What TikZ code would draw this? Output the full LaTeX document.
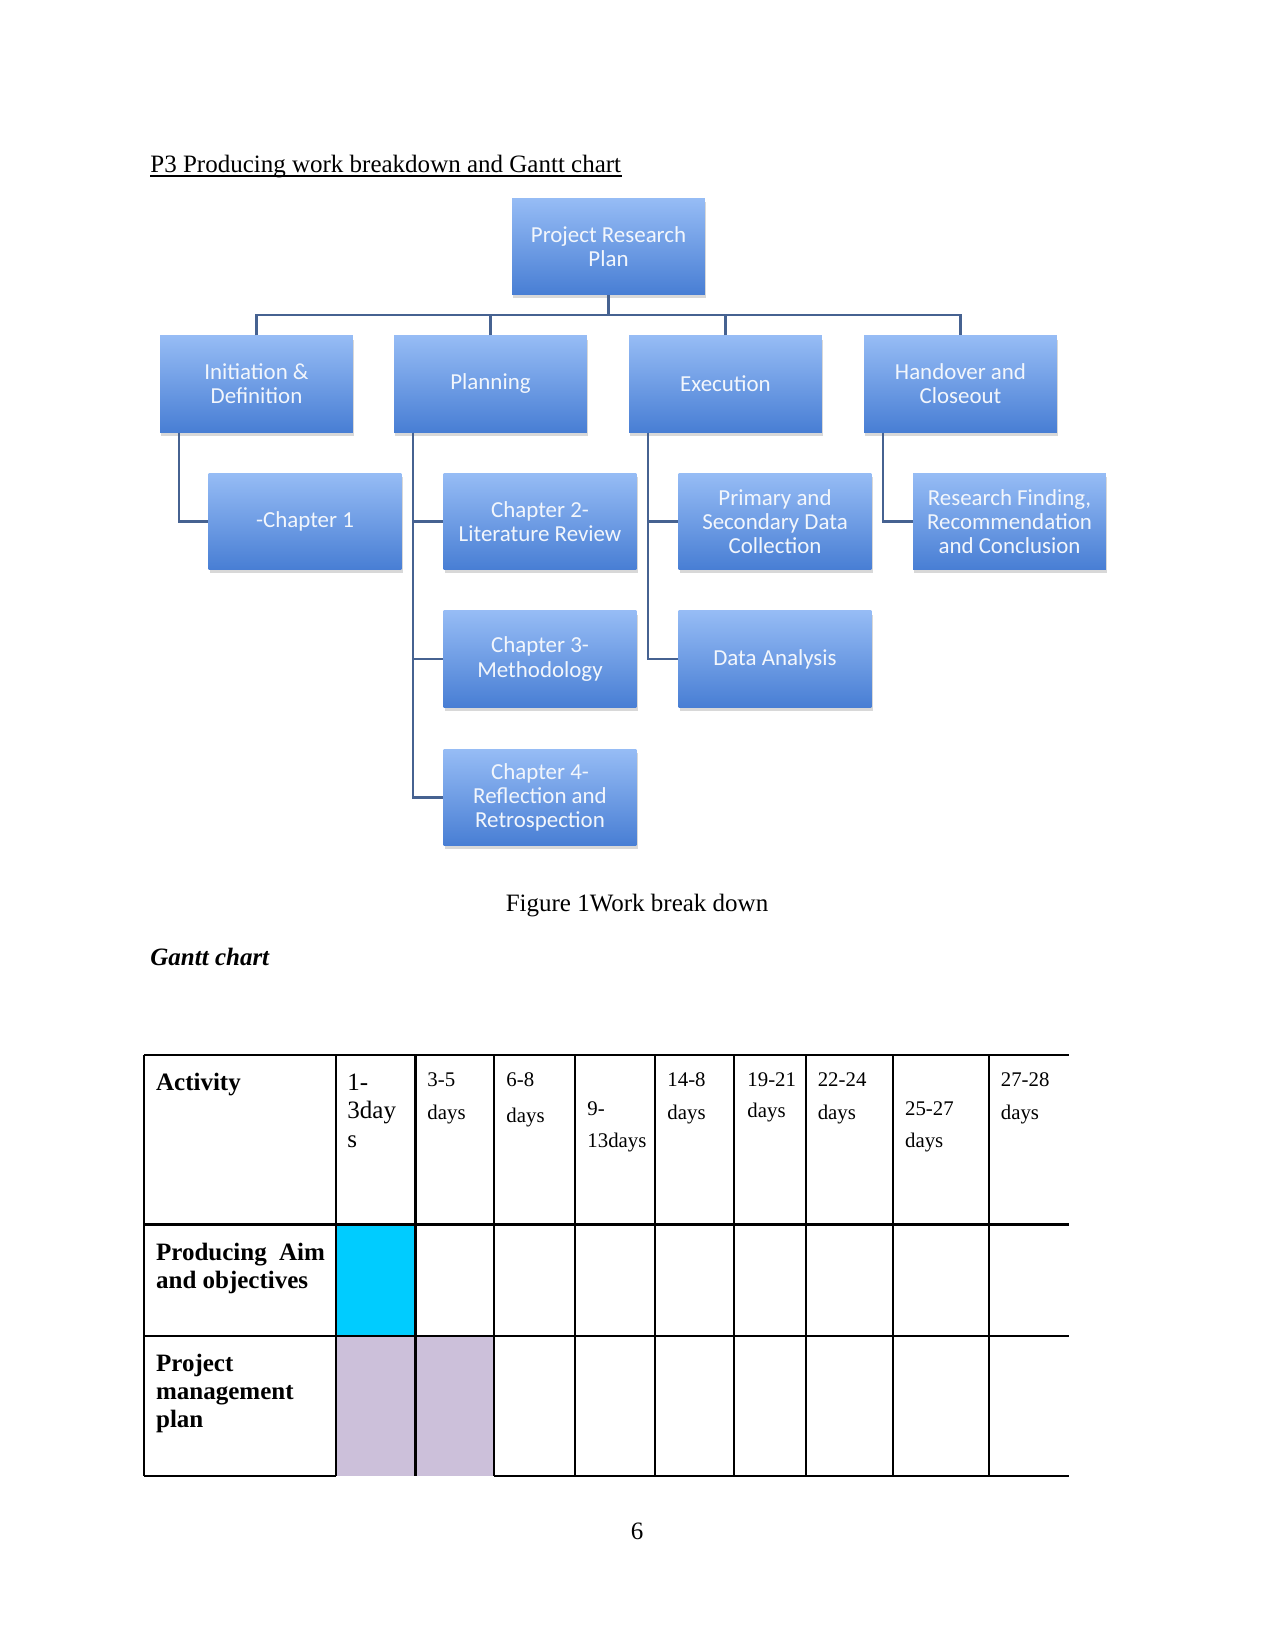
\documentclass[tikz,border=0pt]{standalone}
\usepackage{fontspec}
\setmainfont{Liberation Serif}
\newfontfamily\wbsfont{Carlito}
\usetikzlibrary{shadows}
\definecolor{wbstop}{RGB}{150,188,245}
\definecolor{wbsbot}{RGB}{72,126,212}
\definecolor{wbsline}{RGB}{70,98,145}
\definecolor{wbstext}{RGB}{242,246,252}
\definecolor{gcyan}{RGB}{0,204,255}
\definecolor{glilac}{RGB}{204,192,218}
\tikzset{
  wbsbox/.style={minimum width=92.6pt, minimum height=46.3pt, inner sep=2pt,
    top color=wbstop, bottom color=wbsbot, text=wbstext, align=center,
    font=\wbsfont\fontsize{11}{11.6}\selectfont,
    drop shadow={shadow xshift=0.5pt, shadow yshift=-1.8pt, opacity=0.3}},
  wbslink/.style={draw=wbsline, line width=1pt},
  txt/.style={anchor=base west, inner sep=0pt, font=\fontsize{12}{13.8}\selectfont},
  daylbl/.style={anchor=base west, inner sep=0pt, font=\fontsize{10}{12}\selectfont},
  gline/.style={line width=1pt}
}
\begin{document}
\begin{tikzpicture}[x=0.48pt, y=-0.48pt]
  \fill[white] (0,0) rectangle (1275,1650);
  \useasboundingbox (0,0) rectangle (1275,1650);

  \node[txt] (title) at (150,173) {P3 Producing work breakdown and Gantt chart};
  \draw[line width=0.6pt] ([yshift=-1.4pt]title.base west) -- ([yshift=-1.4pt]title.base east);

  \node[wbsbox] (prp) at (608.5,246.5) {Project Research\\Plan};
  \node[wbsbox] (init) at (256.5,384) {Initiation \&\\Definition};
  \node[wbsbox] (plan) at (490.5,384) {Planning};
  \node[wbsbox] (exec) at (725.5,384) {Execution};
  \node[wbsbox] (hand) at (960.5,384) {Handover and\\Closeout};
  \node[wbsbox] (ch1) at (305,521.5) {-Chapter 1};
  \node[wbsbox] (ch2) at (540,521.5) {Chapter 2-\\Literature Review};
  \node[wbsbox] (ch3) at (540,659) {Chapter 3-\\Methodology};
  \node[wbsbox] (ch4) at (540,797.5) {Chapter 4-\\Reflection and\\Retrospection};
  \node[wbsbox] (pdc) at (775,521.5) {Primary and\\Secondary Data\\Collection};
  \node[wbsbox] (da) at (775,659) {Data Analysis};
  \node[wbsbox] (rfc) at (1009.5,521.5) {Research Finding,\\Recommendation\\and Conclusion};

  \coordinate (bar) at (608.5,315);
  \draw[wbslink] (prp.south) -- (bar);
  \draw[wbslink] (init.north) |- (bar) -| (hand.north);
  \draw[wbslink] (plan.north) -- (plan.north |- bar);
  \draw[wbslink] (exec.north) -- (exec.north |- bar);
  \draw[wbslink] ([xshift=9.1pt]init.south west) |- (ch1.west);
  \foreach \c in {ch2,ch3,ch4}
    \draw[wbslink] ([xshift=9.1pt]plan.south west) |- (\c.west);
  \foreach \c in {pdc,da}
    \draw[wbslink] ([xshift=9.1pt]exec.south west) |- (\c.west);
  \draw[wbslink] ([xshift=9.1pt]hand.south west) |- (rfc.west);

  \node[txt, anchor=base] (cap) at (637,911) {Figure 1Work break down};
  \node[txt] (gantt) at (150,965) {\bfseries\itshape Gantt chart};

  % gantt table
  \fill[gcyan] (335.6,1224.5) rectangle (415.5,1336);
  \fill[glilac] (335.6,1336) rectangle (494.4,1475.9);
  \foreach \y in {1055.1,1224.5,1336}
    \draw[gline] (144.1,\y) -- (1068.8,\y);
  \draw[gline] (144.1,1475.9) -- (335.6,1475.9);
  \draw[gline] (494.4,1475.9) -- (1068.8,1475.9);
  \foreach \x in {144.1,335.6,415.5,494.4,575.4,655.4,734.3,805.8,893.1,988.9}
    \draw[gline] (\x,1055.1) -- (\x,1475.9);

  \node[txt] (act) at (155.7,1090) {\bfseries Activity};
  \node[txt] (c1-1) at (347,1090) {1-};
  \node[txt] (c1-2) at (347,1118.5) {3day};
  \node[txt] (c1-3) at (347,1147) {s};
  \foreach \n/\x/\ya/\yb/\ta/\tb in {c2/427/1086/1119.5/3-5/days, c3/506/1086/1122/6-8/days,
      c4/587/1115/1147/9-/13days, c5/667/1086/1119.5/14-8/days, c6/747/1086/1117/19-21/days,
      c7/817.4/1086/1119.5/22-24/days, c8/904.7/1115/1147/25-27/days,
      c9/1000.4/1086/1119.5/27-28/days} {
    \node[daylbl] (\n-1) at (\x,\ya) {\ta};
    \node[daylbl] (\n-2) at (\x,\yb) {\tb};
  }

  \node[txt] (aim-1) at (155.7,1260) {\bfseries\makebox[81pt][s]{Producing Aim}};
  \node[txt] (aim-2) at (155.7,1288.4) {\bfseries and objectives};
  \node[txt] (pmp-1) at (155.7,1371) {\bfseries Project};
  \node[txt] (pmp-2) at (155.7,1399.4) {\bfseries management};
  \node[txt] (pmp-3) at (155.7,1427.8) {\bfseries plan};

  \node[txt, anchor=base] (pageno) at (637,1539) {6};
\end{tikzpicture}
\end{document}
